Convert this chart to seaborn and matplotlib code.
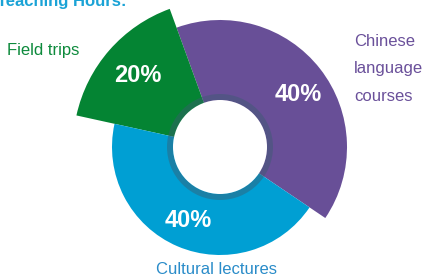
import numpy as np
import matplotlib.pyplot as plt
import seaborn as sns

# Werte aus der Grafik
categories = ["Chinese\nlanguage\ncourses", "Field trips", "Cultural lectures"]
pct_labels = ["40%", "20%", "40%"]
# Bogenanteile so wie gezeichnet (die Grafik ist nicht maßstabsgetreu)
arc_shares = [40, 16, 44]
colors = ["#684f97", "#048433", "#009fd3"]
text_colors = ["#6a509a", "#0d8a3c", "#2a8cc9"]
title = "Teaching Hours:"

sns.set_theme(style="white")
plt.rcParams['font.family'] = ['Liberation Sans', 'DejaVu Sans']

fig = plt.figure(figsize=(4.25, 2.78), dpi=100)
ax = fig.add_axes([0, 0, 1, 1])

center = (220, 131)
radii = [127, 147, 108]
start = -34
label_shift = [-4, 0, 0]

# jedes Segment mit eigenem Radius zeichnen
for k in range(len(arc_shares)):
    cols = [colors[i] if i == k else "none" for i in range(len(arc_shares))]
    wedges, _ = ax.pie(arc_shares, radius=radii[k], colors=cols, startangle=start,
                       center=center, counterclock=True,
                       wedgeprops=dict(linewidth=0))
    w = wedges[k]
    mid = np.deg2rad((w.theta1 + w.theta2) / 2 + label_shift[k])
    r = 0.74 * w.r
    ax.text(center[0] + r * np.cos(mid), center[1] + r * np.sin(mid), pct_labels[k],
            color="white", fontsize=17, fontweight="bold", ha="center", va="center")

# dunkler Ring und Loch
ax.pie([1], radius=53, colors=["#3a5c70"], center=center,
       wedgeprops=dict(width=6, alpha=0.45, linewidth=0))
ax.pie([1], radius=47, colors=["white"], center=center, wedgeprops=dict(linewidth=0))

ax.set_aspect("auto")
ax.set_xlim(0, 425)
ax.set_ylim(0, 278)
ax.axis("off")

ax.text(-3, 272, title, color="#1ba3d6", fontsize=12, fontweight="bold",
        ha="left", va="baseline")
ax.text(7, 228, categories[1], color=text_colors[1], fontsize=12, ha="left", va="center")
ax.text(354, 209, categories[0], color=text_colors[0], fontsize=12, ha="left",
        va="center", linespacing=2.05)
ax.text(217, 8, categories[2], color=text_colors[2], fontsize=12, ha="center", va="center")

fig.savefig("out.png", dpi=100)
